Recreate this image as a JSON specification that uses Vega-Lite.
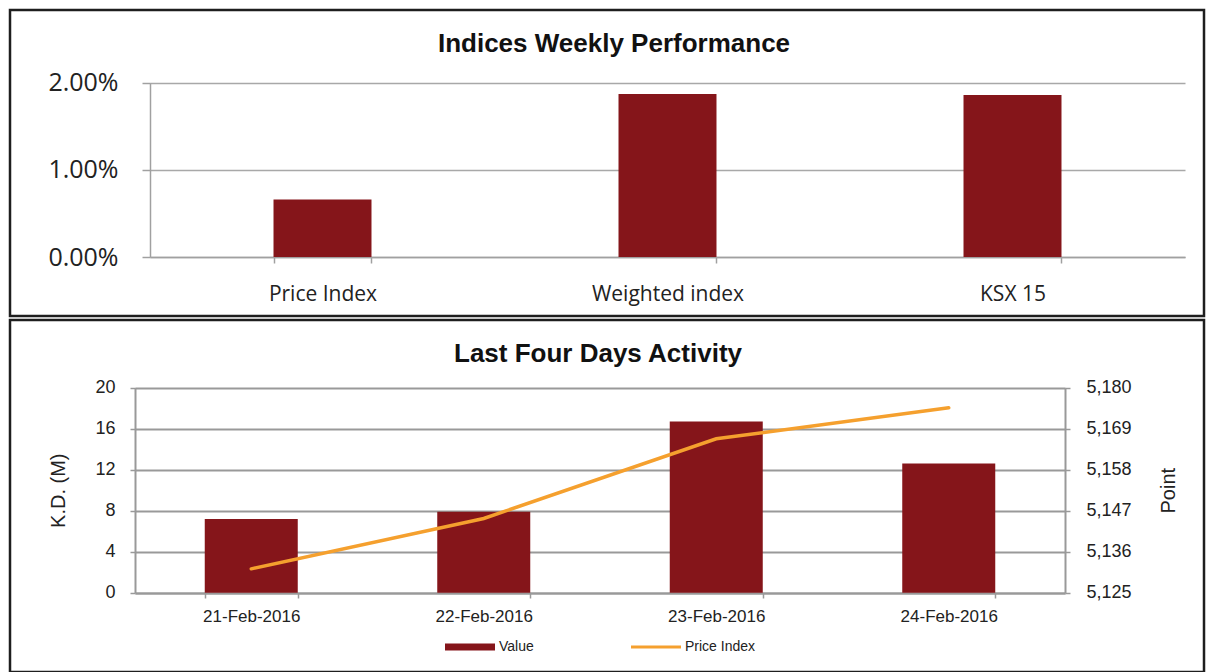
{
  "$schema": "https://vega.github.io/schema/vega-lite/v6.json",
  "background": "white",
  "padding": {"left": 8, "top": 8, "right": 0, "bottom": 0},
  "spacing": 0,
  "config": {
    "view": {"stroke": "#1e1e1e", "strokeWidth": 2.5},
    "concat": {"spacing": 0}
  },
  "datasets": {
    "weekly": [
      {"index": "Price Index", "change": 0.0066},
      {"index": "Weighted index", "change": 0.0187},
      {"index": "KSX 15", "change": 0.0186}
    ],
    "activity": [
      {"date": "21-Feb-2016", "value": 7.2, "series": "Value"},
      {"date": "22-Feb-2016", "value": 7.9, "series": "Value"},
      {"date": "23-Feb-2016", "value": 16.7, "series": "Value"},
      {"date": "24-Feb-2016", "value": 12.6, "series": "Value"}
    ],
    "price": [
      {"date": "21-Feb-2016", "price": 5131.4, "series": "Price Index"},
      {"date": "22-Feb-2016", "price": 5144.9, "series": "Price Index"},
      {"date": "23-Feb-2016", "price": 5166.3, "series": "Price Index"},
      {"date": "24-Feb-2016", "price": 5174.6, "series": "Price Index"}
    ]
  },
  "vconcat": [
    {
      "width": 1194,
      "height": 306,
      "title": {
        "text": "Indices Weekly Performance",
        "font": "Liberation Sans",
        "fontSize": 26,
        "fontWeight": "bold",
        "color": "#111111",
        "anchor": "middle",
        "baseline": "alphabetic",
        "offset": -68,
        "dx": 7
      },
      "data": {"name": "weekly"},
      "mark": {"type": "bar", "color": "#85151A"},
      "encoding": {
        "x": {
          "field": "index",
          "type": "nominal",
          "sort": null,
          "scale": {"range": [140, 1175], "paddingInner": 0.716, "paddingOuter": 0.358},
          "axis": {
            "title": null,
            "labelAngle": 0,
            "offset": -59,
            "tickBand": "extent",
            "grid": false,
            "domainColor": "#a0a0a0",
            "domainWidth": 1.5,
            "tickColor": "#a0a0a0",
            "tickWidth": 1.5,
            "tickSize": 6,
            "labelFont": "Open Sans",
            "labelFontSize": 21,
            "labelColor": "#222222",
            "labelPadding": 20
          }
        },
        "y": {
          "field": "change",
          "type": "quantitative",
          "scale": {"domain": [0, 0.02], "range": [247, 72.7], "nice": false},
          "axis": {
            "title": null,
            "values": [0, 0.01, 0.02],
            "format": ".2%",
            "offset": -140,
            "grid": true,
            "gridColor": "#a8a8a8",
            "gridWidth": 1.5,
            "domainColor": "#a0a0a0",
            "domainWidth": 1.5,
            "tickColor": "#a0a0a0",
            "tickWidth": 1.5,
            "tickSize": 8,
            "labelPadding": 24,
            "labelFont": "Open Sans",
            "labelFontSize": 25,
            "labelColor": "#222222"
          }
        }
      }
    },
    {
      "width": 1194,
      "height": 352,
      "title": {
        "text": "Last Four Days Activity",
        "font": "Liberation Sans",
        "fontSize": 26,
        "fontWeight": "bold",
        "color": "#111111",
        "anchor": "middle",
        "baseline": "alphabetic",
        "offset": -68,
        "dx": -9
      },
      "layer": [
        {
          "data": {"name": "activity"},
          "mark": {"type": "bar"},
          "encoding": {
            "x": {
              "field": "date",
              "type": "nominal",
              "sort": null,
              "scale": {"range": [125, 1055], "paddingInner": 0.6, "paddingOuter": 0.3},
              "axis": {
                "title": null,
                "labelAngle": 0,
                "offset": -79,
                "tickBand": "extent",
                "grid": false,
                "domainColor": "#999999",
                "domainWidth": 2,
                "tickColor": "#999999",
                "tickWidth": 1.5,
                "tickSize": 5,
                "labelFont": "Liberation Sans",
                "labelFontSize": 17,
                "labelColor": "#222222",
                "labelPadding": 10
              }
            },
            "y": {
              "field": "value",
              "type": "quantitative",
              "scale": {"domain": [0, 20], "range": [272.7, 67.7], "nice": false},
              "axis": {
                "title": "K.D. (M)",
                "titleFont": "Liberation Sans",
                "titleFontSize": 20,
                "titleFontWeight": "normal",
                "titleColor": "#222222",
                "titlePadding": 26,
                "values": [0, 4, 8, 12, 16, 20],
                "offset": -125,
                "grid": true,
                "gridColor": "#999999",
                "gridWidth": 2,
                "domainColor": "#999999",
                "domainWidth": 2,
                "tickColor": "#999999",
                "tickWidth": 1.5,
                "tickSize": 5,
                "labelPadding": 15,
                "labelFont": "Liberation Sans",
                "labelFontSize": 18,
                "labelColor": "#222222"
              }
            },
            "color": {
              "field": "series",
              "type": "nominal",
              "scale": {"domain": ["Value", "Price Index"], "range": ["#85151A", "#F5A02E"]},
              "legend": {
                "orient": "none",
                "legendX": 453,
                "legendY": 630,
                "direction": "horizontal",
                "gridAlign": "none",
                "title": null,
                "symbolType": "stroke",
                "symbolSize": 2500,
                "symbolStrokeWidth": 7,
                "labelFont": "Liberation Sans",
                "labelFontSize": 14,
                "labelColor": "#222222",
                "labelOffset": 22,
                "columnPadding": 91,
                "encode": {
                  "symbols": {
                    "update": {
                      "stroke": {"signal": "datum.value === 'Value' ? '#85151A' : '#F5A02E'"},
                      "strokeWidth": {"signal": "datum.value === 'Value' ? 7 : 3"},
                      "fill": {"value": "transparent"}
                    }
                  }
                }
              }
            }
          }
        },
        {
          "data": {"name": "price"},
          "mark": {"type": "line", "strokeWidth": 3.5, "strokeCap": "round"},
          "encoding": {
            "x": {"field": "date", "type": "nominal", "sort": null},
            "y": {
              "field": "price",
              "type": "quantitative",
              "scale": {"domain": [5125, 5180], "range": [272.7, 67.7], "nice": false, "zero": false},
              "axis": {
                "orient": "right",
                "title": "Point",
                "titleFont": "Liberation Sans",
                "titleFontSize": 20,
                "titleFontWeight": "normal",
                "titleColor": "#222222",
                "titleAngle": -90,
                "titlePadding": 47,
                "values": [5125, 5136, 5147, 5158, 5169, 5180],
                "format": ",.0f",
                "offset": -139,
                "grid": false,
                "domainColor": "#999999",
                "domainWidth": 2,
                "tickColor": "#999999",
                "tickWidth": 1.5,
                "tickSize": 5,
                "labelPadding": 16,
                "labelFont": "Liberation Sans",
                "labelFontSize": 18,
                "labelColor": "#222222"
              }
            },
            "color": {"field": "series", "type": "nominal"}
          }
        }
      ],
      "resolve": {"scale": {"y": "independent"}}
    }
  ]
}
